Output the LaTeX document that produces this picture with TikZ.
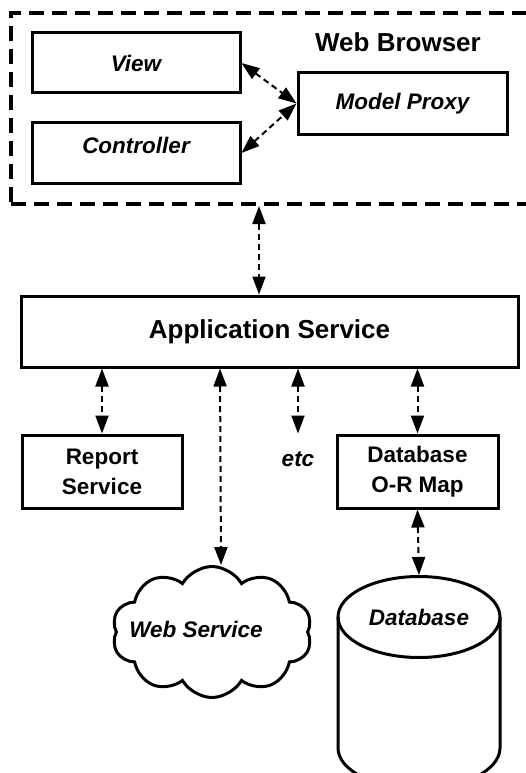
\documentclass[tikz,border=0pt]{standalone}
\usepackage{fontspec}
\setmainfont{Liberation Sans}
\usepackage{tikz}
\usetikzlibrary{calc}
\usetikzlibrary{arrows.meta}
\usetikzlibrary{shapes}
\usetikzlibrary{shapes.geometric}
\tikzset{>={Triangle[length=18pt,width=13pt]}}
\tikzstyle{box} = [rectangle, draw=black, line width=3pt, fill=white, inner sep=0pt, font=\bfseries\fontsize{22.5}{30}\selectfont]
\tikzstyle{itext} = [inner sep=0pt, font=\bfseries\itshape\fontsize{22.5}{30}\selectfont]
\tikzstyle{title} = [inner sep=0pt, font=\bfseries\fontsize{26}{30}\selectfont]
\tikzstyle{link} = [<->, line width=2pt, dash pattern=on 6pt off 4pt]

\begin{document}
\begin{tikzpicture}[x=1pt, y=-1pt]
\useasboundingbox (0,0) rectangle (525,773);
% browser part
\node [rectangle, draw=black, line width=4pt, dash pattern=on 15pt off 8pt, minimum width=519pt, minimum height=191pt] (browser) at (270.5,108.5) {};
\node [title] (browsertitle) at (398,42) {Web Browser};
\node [box, minimum width=208pt, minimum height=60pt] (view) at (136,63) {\itshape View};
\node [box, minimum width=208pt, minimum height=60pt, text depth=16pt] (ctrl) at (136,153) {\itshape Controller};
\node [box, minimum width=209pt, minimum height=61pt] (proxy) at (402.5,103.5) {\itshape Model Proxy};
\draw [link] (view.east) to (proxy.west);
\draw [link] (ctrl.east) to (proxy.west);
% server part
\node [box, font=\bfseries\fontsize{26}{30}\selectfont, minimum width=497pt, minimum height=71pt] (app) at (269.5,331.5) {Application Service};
\draw [link] ($(browser.south)+(-11.5,0)$) to ($(app.north)+(-10.5,0)$);
\node [box, align=center, minimum width=160pt, minimum height=73pt] (report) at (102,471.5) {Report\\Service};
\node [itext] (etc) at (298,459) {etc};
\node [box, align=center, minimum width=161pt, minimum height=73pt] (ormap) at (417.5,471.5) {Database\\O-R Map};
\node [cloud, cloud puffs=10, cloud puff arc=120, aspect=1.5, draw=black, line width=3pt, fill=white, minimum width=200pt, minimum height=131pt,
  label={[itext, xshift=-16pt, yshift=3pt]center:Web Service}] (websvc) at (212,632) {};
% database drum: top face is the node, body drawn below it
\node [ellipse, draw=black, line width=3pt, fill=white, inner sep=0pt, minimum width=162pt, minimum height=81pt, font=\bfseries\itshape\fontsize{22.5}{30}\selectfont] (db) at (419,617) {Database};
\draw [line width=3pt] ($(db.center)+(-81,0)$) -- ++(0,131) arc [start angle=180, end angle=360, x radius=81pt, y radius=40.5pt] -- ($(db.center)+(81,0)$);
\draw [link] (report.north |- app.south) to (report.north);
\draw [link] ($(app.south)+(-49.5,0)$) to ($(websvc.north)+(9,0)$);
\draw [link] (etc.north |- app.south) to (etc.north |- report.north);
\draw [link] (ormap.north |- app.south) to (ormap.north);
\draw [link] (ormap.south) to (db.north);
\end{tikzpicture}
\end{document}
